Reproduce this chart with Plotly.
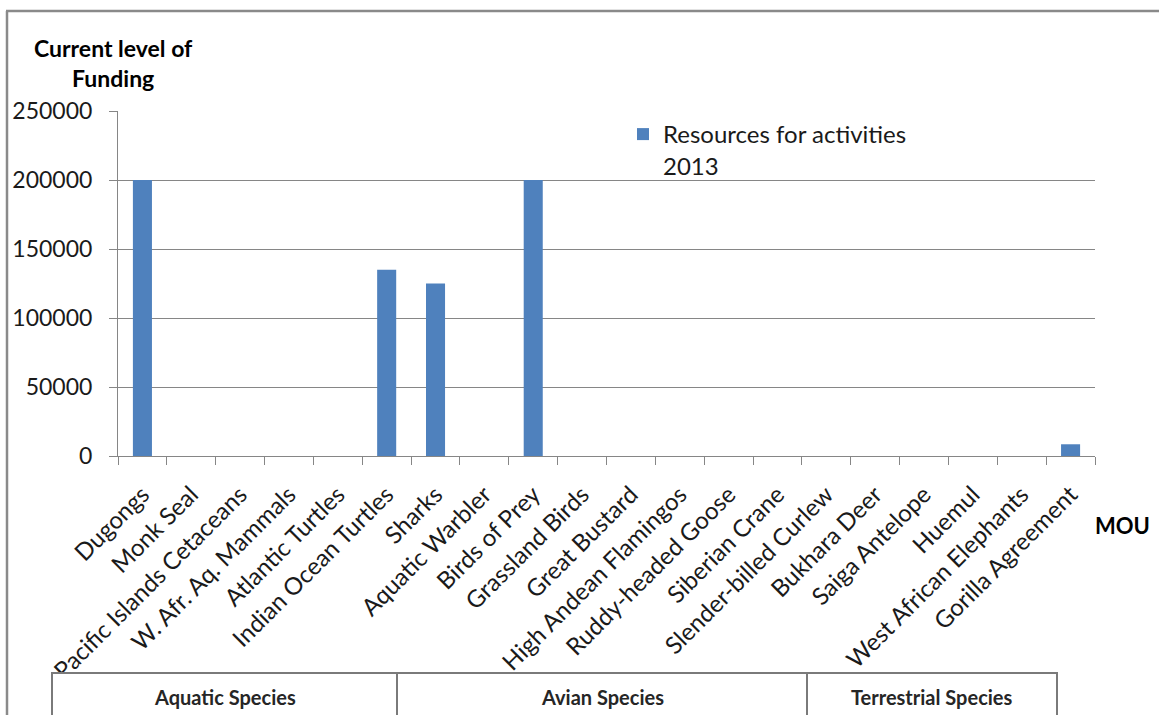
import plotly.graph_objects as go

categories = ["Dugongs", "Monk Seal", "Pacific Islands Cetaceans", "W. Afr. Aq. Mammals",
              "Atlantic Turtles", "Indian Ocean Turtles", "Sharks", "Aquatic Warbler",
              "Birds of Prey", "Grassland Birds", "Great Bustard", "High Andean Flamingos",
              "Ruddy-headed Goose", "Siberian Crane", "Slender-billed Curlew", "Bukhara Deer",
              "Saiga Antelope", "Huemul", "West African Elephants", "Gorilla Agreement"]
resources_2013 = [200000, 0, 0, 0, 0, 135000, 125000, 0, 200000, 0, 0, 0, 0, 0, 0, 0, 0, 0, 0, 8500]
y_ticks = [0, 50000, 100000, 150000, 200000, 250000]
groups = ["Aquatic Species", "Avian Species", "Terrestrial Species"]

W, H = 1159, 715
L, R, T, B = 118, 1095, 111, 456  # plot area in pixels
FONT = "Lato, 'Open Sans', sans-serif"

def px(x):
    return (x - L) / (R - L)

def py(y):
    return (B - y) / (B - T)

fig = go.Figure()
fig.add_trace(go.Bar(
    x=categories, y=resources_2013, name="Resources for activities<br>2013",
    marker=dict(color="#4F81BD", line=dict(width=0)),
))

grey = "#868686"
fig.update_layout(
    width=W, height=H,
    margin=dict(l=L, r=W - R, t=T, b=H - B, autoexpand=False),
    paper_bgcolor="white", plot_bgcolor="white",
    bargap=0.61,
    font=dict(family=FONT, color="#1a1a1a"),
    showlegend=True,
    legend=dict(x=px(623), y=py(112), xanchor="left", yanchor="top", valign="top",
                font=dict(size=24, family=FONT, color="#1a1a1a"),
                bgcolor="rgba(0,0,0,0)"),
    xaxis=dict(type="category", tickson="boundaries", ticks="outside", ticklen=8,
               tickcolor=grey, showline=True, linecolor=grey, linewidth=1,
               showgrid=False, tickangle=-45, tickfont=dict(size=24, family=FONT, color="#1a1a1a"),
               ticklabelstandoff=14, automargin=False),
    yaxis=dict(range=[0, 250000], tickvals=y_ticks, ticktext=[str(v) for v in y_ticks],
               ticks="outside", ticklen=8, tickcolor=grey,
               showline=True, linecolor=grey, linewidth=1,
               showgrid=True, gridcolor=grey, gridwidth=1, zeroline=False,
               tickfont=dict(size=23, family=FONT, color="#1a1a1a"),
               ticklabelstandoff=12, automargin=False),
)

# outer chart border (left and top)
fig.add_shape(type="line", xref="paper", yref="paper", x0=px(7), x1=px(7), y0=py(11), y1=py(730),
              line=dict(color="#8a8a8a", width=2.5))
fig.add_shape(type="line", xref="paper", yref="paper", x0=px(6), x1=px(1170), y0=py(11), y1=py(11),
              line=dict(color="#8a8a8a", width=2.5))

# group table at bottom
tbl = [52, 397, 807, 1057]
tcol = "#7a7a7a"
fig.add_shape(type="rect", xref="paper", yref="paper", x0=px(tbl[0]), x1=px(tbl[3]),
              y0=py(673), y1=py(730), line=dict(color=tcol, width=2), fillcolor="white")
for xv in tbl[1:3]:
    fig.add_shape(type="line", xref="paper", yref="paper", x0=px(xv), x1=px(xv),
                  y0=py(673), y1=py(730), line=dict(color=tcol, width=2))
for i, g in enumerate(groups):
    fig.add_annotation(x=px((tbl[i] + tbl[i + 1]) / 2), y=py(697), xref="paper", yref="paper",
                       text="<b>%s</b>" % g, showarrow=False, xanchor="center", yanchor="middle",
                       font=dict(size=20, family=FONT, color="#262626"))

# axis titles
fig.add_annotation(x=px(113), y=py(63), xref="paper", yref="paper",
                   text="<b>Current level of<br>Funding</b>", showarrow=False,
                   xanchor="center", yanchor="middle", align="center",
                   font=dict(size=23, family=FONT, color="#000000"))
fig.add_annotation(x=px(1122), y=py(525), xref="paper", yref="paper",
                   text="<b>MOU</b>", showarrow=False, xanchor="center", yanchor="middle",
                   font=dict(size=22, family=FONT, color="#000000"))

fig.write_html("out.html")
